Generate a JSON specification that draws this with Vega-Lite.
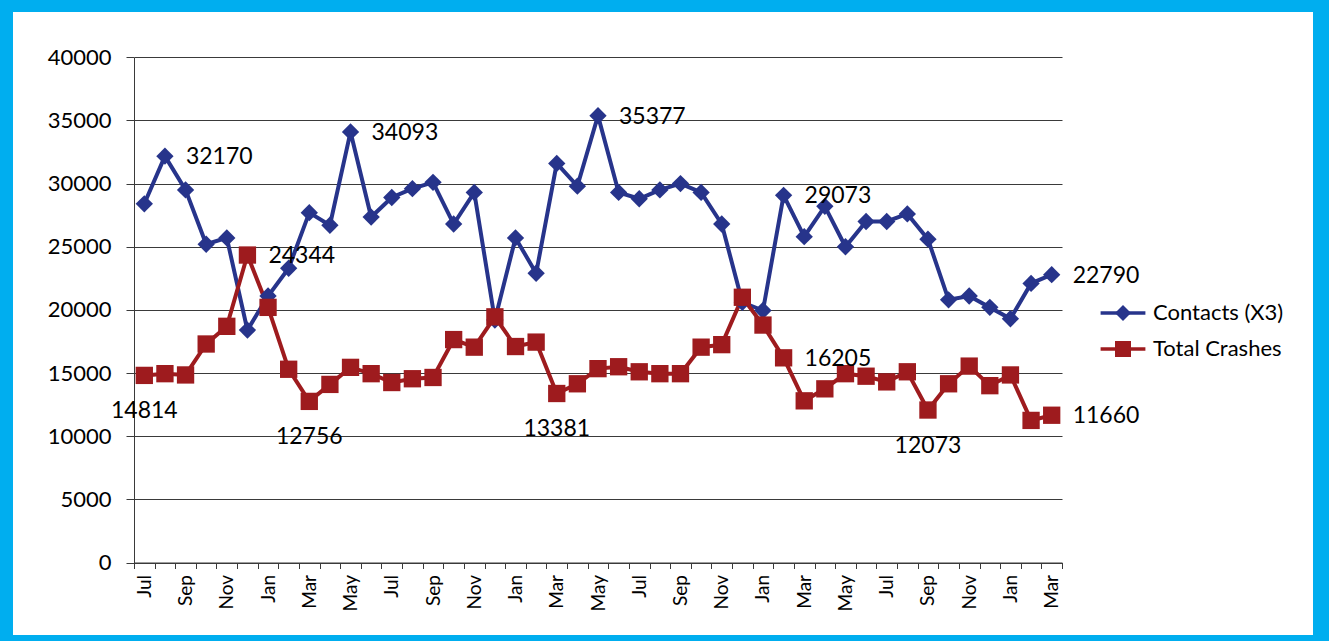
{
  "$schema": "https://vega.github.io/schema/vega-lite/v6.json",
  "width": 1300,
  "height": 623,
  "autosize": {"type": "none"},
  "padding": {"left": 13, "top": 12, "right": 16, "bottom": 6},
  "background": "#00AEEF",
  "config": {
    "view": {"fill": "white", "stroke": null},
    "font": "Lato"
  },
  "data": {
    "values": [
      {"month": "Jul 1", "Contacts (X3)": 28400, "Total Crashes": 14814},
      {"month": "Aug 1", "Contacts (X3)": 32170, "Total Crashes": 14950},
      {"month": "Sep 1", "Contacts (X3)": 29500, "Total Crashes": 14850},
      {"month": "Oct 1", "Contacts (X3)": 25200, "Total Crashes": 17300},
      {"month": "Nov 1", "Contacts (X3)": 25700, "Total Crashes": 18700},
      {"month": "Dec 1", "Contacts (X3)": 18400, "Total Crashes": 24344},
      {"month": "Jan 2", "Contacts (X3)": 21100, "Total Crashes": 20200},
      {"month": "Feb 2", "Contacts (X3)": 23300, "Total Crashes": 15300},
      {"month": "Mar 2", "Contacts (X3)": 27700, "Total Crashes": 12756},
      {"month": "Apr 2", "Contacts (X3)": 26700, "Total Crashes": 14100},
      {"month": "May 2", "Contacts (X3)": 34093, "Total Crashes": 15450},
      {"month": "Jun 2", "Contacts (X3)": 27350, "Total Crashes": 14950},
      {"month": "Jul 2", "Contacts (X3)": 28900, "Total Crashes": 14250},
      {"month": "Aug 2", "Contacts (X3)": 29600, "Total Crashes": 14550},
      {"month": "Sep 2", "Contacts (X3)": 30100, "Total Crashes": 14650},
      {"month": "Oct 2", "Contacts (X3)": 26800, "Total Crashes": 17650},
      {"month": "Nov 2", "Contacts (X3)": 29300, "Total Crashes": 17050},
      {"month": "Dec 2", "Contacts (X3)": 19200, "Total Crashes": 19450},
      {"month": "Jan 3", "Contacts (X3)": 25700, "Total Crashes": 17100},
      {"month": "Feb 3", "Contacts (X3)": 22900, "Total Crashes": 17450},
      {"month": "Mar 3", "Contacts (X3)": 31600, "Total Crashes": 13381},
      {"month": "Apr 3", "Contacts (X3)": 29800, "Total Crashes": 14150},
      {"month": "May 3", "Contacts (X3)": 35377, "Total Crashes": 15350},
      {"month": "Jun 3", "Contacts (X3)": 29300, "Total Crashes": 15500},
      {"month": "Jul 3", "Contacts (X3)": 28800, "Total Crashes": 15100},
      {"month": "Aug 3", "Contacts (X3)": 29500, "Total Crashes": 14950},
      {"month": "Sep 3", "Contacts (X3)": 30000, "Total Crashes": 14950},
      {"month": "Oct 3", "Contacts (X3)": 29300, "Total Crashes": 17050},
      {"month": "Nov 3", "Contacts (X3)": 26800, "Total Crashes": 17250},
      {"month": "Dec 3", "Contacts (X3)": 20600, "Total Crashes": 21000},
      {"month": "Jan 4", "Contacts (X3)": 19950, "Total Crashes": 18800},
      {"month": "Feb 4", "Contacts (X3)": 29073, "Total Crashes": 16205},
      {"month": "Mar 4", "Contacts (X3)": 25800, "Total Crashes": 12800},
      {"month": "Apr 4", "Contacts (X3)": 28200, "Total Crashes": 13750},
      {"month": "May 4", "Contacts (X3)": 25000, "Total Crashes": 14950},
      {"month": "Jun 4", "Contacts (X3)": 27000, "Total Crashes": 14750},
      {"month": "Jul 4", "Contacts (X3)": 27000, "Total Crashes": 14300},
      {"month": "Aug 4", "Contacts (X3)": 27600, "Total Crashes": 15100},
      {"month": "Sep 4", "Contacts (X3)": 25600, "Total Crashes": 12073},
      {"month": "Oct 4", "Contacts (X3)": 20800, "Total Crashes": 14150},
      {"month": "Nov 4", "Contacts (X3)": 21100, "Total Crashes": 15550},
      {"month": "Dec 4", "Contacts (X3)": 20200, "Total Crashes": 14000},
      {"month": "Jan 5", "Contacts (X3)": 19300, "Total Crashes": 14850},
      {"month": "Feb 5", "Contacts (X3)": 22100, "Total Crashes": 11250},
      {"month": "Mar 5", "Contacts (X3)": 22790, "Total Crashes": 11660}
    ]
  },
  "transform": [
    {"fold": ["Contacts (X3)", "Total Crashes"], "as": ["series", "value"]}
  ],
  "encoding": {
    "x": {
      "field": "month",
      "type": "ordinal",
      "sort": null,
      "bandPosition": 0.5,
      "scale": {"type": "band", "range": [121, 1049], "paddingInner": 0, "paddingOuter": 0},
      "axis": {
        "title": null,
        "offset": -72.5,
        "labelAngle": -90,
        "labelAlign": "right",
        "labelBaseline": "middle",
        "labelFontSize": 19,
        "labelColor": "#000000",
        "labelPadding": 6,
        "labelOverlap": false,
        "labelExpr": "test(/^(Jul|Sep|Nov|Jan|Mar|May)/, '' + datum.label) ? substring('' + datum.label, 0, 3) : ''",
        "tickBand": "extent",
        "tickSize": 6,
        "tickColor": "#3a3a3a",
        "domainColor": "#3a3a3a",
        "grid": false
      }
    },
    "y": {
      "field": "value",
      "type": "quantitative",
      "scale": {"domain": [0, 40000], "range": [550.5, 45.3], "nice": false},
      "axis": {
        "title": null,
        "offset": -121,
        "values": [0, 5000, 10000, 15000, 20000, 25000, 30000, 35000, 40000],
        "format": "d",
        "labelFontSize": 22,
        "labelColor": "#000000",
        "labelPadding": 15,
        "tickSize": 8,
        "tickColor": "#3a3a3a",
        "domainColor": "#3a3a3a",
        "grid": true,
        "gridColor": "#3a3a3a",
        "gridOpacity": 1,
        "gridWidth": 1
      }
    }
  },
  "layer": [
    {
      "mark": {"type": "line", "strokeWidth": 4},
      "encoding": {
        "color": {
          "field": "series",
          "type": "nominal",
          "scale": {"domain": ["Contacts (X3)", "Total Crashes"], "range": ["#27348B", "#9E1B1E"]},
          "legend": {
            "title": null,
            "orient": "none",
            "legendX": 1099,
            "legendY": 290,
            "padding": 0,
            "labelFontSize": 22,
            "labelColor": "#000000",
            "labelOffset": 19,
            "rowPadding": 14,
            "symbolSize": 256,
            "symbolType": "M-2.8,0H2.8",
            "symbolStrokeWidth": 3.5
          }
        }
      }
    },
    {
      "mark": {"type": "point", "filled": true, "opacity": 1, "size": 300},
      "encoding": {
        "fill": {
          "field": "series",
          "type": "nominal",
          "scale": {"range": ["#27348B", "#9E1B1E"]},
          "legend": {
            "title": null,
            "orient": "none",
            "legendX": 1099,
            "legendY": 290,
            "padding": 0,
            "labelFontSize": 22,
            "labelOpacity": 0,
            "labelOffset": 19,
            "rowPadding": 14,
            "symbolSize": 256
          }
        },
        "shape": {
          "field": "series",
          "type": "nominal",
          "scale": {"range": ["diamond", "square"]},
          "legend": {
            "title": null,
            "orient": "none",
            "legendX": 1099,
            "legendY": 290,
            "padding": 0,
            "labelFontSize": 22,
            "labelOpacity": 0,
            "labelOffset": 19,
            "rowPadding": 14,
            "symbolSize": 256
          }
        }
      }
    },
    {
      "transform": [
        {"filter": "datum.value == 32170 || datum.value == 34093 || datum.value == 35377 || datum.value == 29073 || datum.value == 22790 || datum.value == 24344 || datum.value == 16205 || datum.value == 11660"}
      ],
      "mark": {"type": "text", "align": "left", "baseline": "middle", "dx": 21, "dy": 1, "fontSize": 23, "color": "#000000"},
      "encoding": {
        "text": {"field": "value", "type": "quantitative", "format": "d"}
      }
    },
    {
      "transform": [
        {"filter": "datum.value == 14814 || datum.value == 12756 || datum.value == 13381 || datum.value == 12073"}
      ],
      "mark": {"type": "text", "align": "center", "baseline": "middle", "dy": 36, "fontSize": 23, "color": "#000000"},
      "encoding": {
        "text": {"field": "value", "type": "quantitative", "format": "d"}
      }
    }
  ]
}
